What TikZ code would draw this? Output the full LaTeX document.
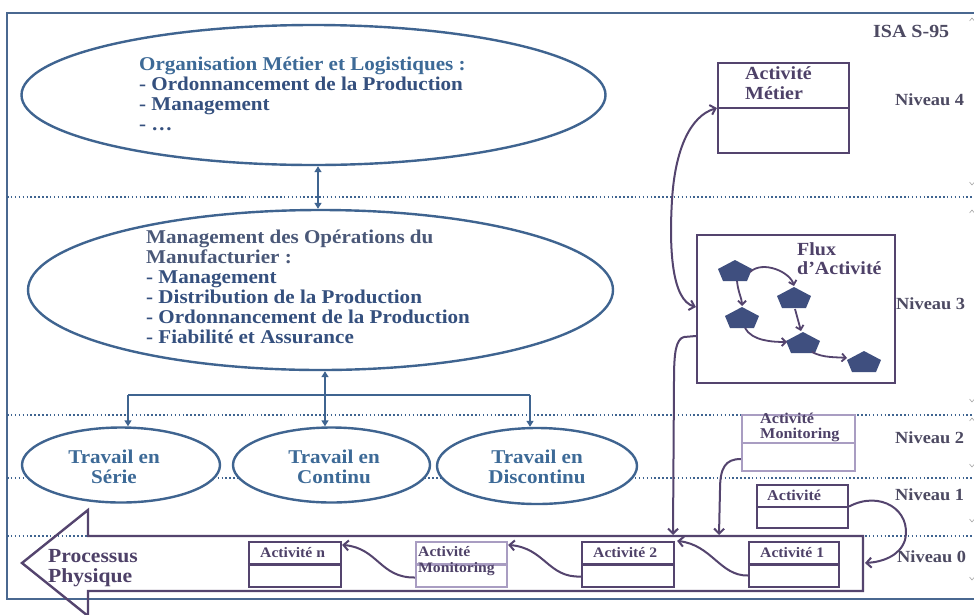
\documentclass[tikz,border=0pt]{standalone}
\usepackage{fontspec}
\setmainfont{Liberation Serif}[FakeStretch=1.08]
\usetikzlibrary{shapes.geometric,arrows.meta,calc}
\definecolor{blueline}{HTML}{3F6490}
\definecolor{frameblue}{HTML}{4A6890}
\definecolor{purp}{HTML}{54446E}
\definecolor{lpurp}{HTML}{A99DC2}
\definecolor{pentfill}{HTML}{3F4F7F}
\definecolor{tblue}{HTML}{3D6A97}
\definecolor{tnavy}{HTML}{35507E}
\definecolor{tslate}{HTML}{4A5878}
\definecolor{tpurp}{HTML}{4E4168}
\definecolor{tgrey}{HTML}{4D4A62}
\newcommand\myfs[2]{\fontsize{#1}{#2}\selectfont\bfseries}
\newcommand\mypent[1]{\fill[pentfill,shift={(#1)}] (0,-10) -- (17,-1) -- (12,11) -- (-12,11) -- (-17,-1) -- cycle;}
\begin{document}
\begin{tikzpicture}[x=1pt,y=-1pt,
  ell/.style={ellipse,draw=blueline,line width=2.4pt,fill=white,inner sep=0pt},
  bl/.style={draw=blueline,line width=2.4pt},
  btip/.style={bl,{Triangle[length=6pt,width=7pt]}-{Triangle[length=6pt,width=7pt]}},
  dtip/.style={bl,-{Triangle[length=6pt,width=7pt]}},
  dots/.style={draw=blueline,line width=1.5pt,dash pattern=on 1.5pt off 2.4pt},
  pbox/.style={draw=purp,line width=2.2pt,fill=white,inner sep=0pt},
  lbox/.style={draw=lpurp,line width=2.2pt,fill=white,inner sep=0pt},
  parr/.style={draw=purp,line width=2pt,-{Straight Barb[length=5pt,width=10pt]}},
  farr/.style={draw=purp,line width=1.8pt,-{Straight Barb[length=4pt,width=8pt]}},
  txt/.style={inner sep=0pt,align=left},
  edgemark/.style={draw=gray!70,line width=0.6pt}
]
\clip (0,0) rectangle (974,614);
\fill[white] (0,0) rectangle (974,614);
% frame
\draw[frameblue,line width=2.2pt] (980,13) -- (7,13) -- (7,599) -- (980,599);
% level separators
\draw[dots] (7,197) -- (974,197);
\draw[dots] (7,415) -- (974,415);
\draw[dots] (7,478) -- (974,478);
\draw[dots] (7,536) -- (974,536);
% right edge marks
\foreach \yy in {18,210,418} {\draw[edgemark] (969.5,\yy+3) -- (972,\yy) -- (974.5,\yy+3);}
\foreach \yy in {185,402,467,522,580} {\draw[edgemark] (969.5,\yy-3) -- (972,\yy) -- (974.5,\yy-3);}
% ellipses
\node[ell,minimum width=584pt,minimum height=140pt] (e1) at (313.5,95) {};
\node[ell,minimum width=585pt,minimum height=160pt] (e2) at (320.5,290) {};
\node[txt,anchor=north west,font=\myfs{19.5}{20}] (e1t) at (139,56.5)
 {\color{tblue}Organisation M\'etier et Logistiques :\\
  \color{tnavy}- Ordonnancement de la Production\\
  \color{tnavy}- Management\\
  \color{tnavy}- \ldots};
\node[txt,anchor=north west,font=\myfs{19.5}{20}] (e2t) at (146,229.5)
 {\color{tslate}Management des Op\'erations du\\
  \color{tslate}Manufacturier :\\
  \color{tnavy}- Management\\
  \color{tnavy}- Distribution de la Production\\
  \color{tnavy}- Ordonnancement de la Production\\
  \color{tnavy}- Fiabilit\'e et Assurance};
\node[ell,minimum width=198pt,minimum height=75pt] (ts) at (121,465) {};
\node[ell,minimum width=197pt,minimum height=75pt] (tc) at (331.5,465) {};
\node[ell,minimum width=200pt,minimum height=76pt] (td) at (537,466) {};
\node[txt,align=center,font=\myfs{19.5}{20},text=tblue] (tst) at (114,467) {Travail en\\S\'erie};
\node[txt,align=center,font=\myfs{19.5}{20},text=tblue] (tct) at (334,467) {Travail en\\Continu};
\node[txt,align=center,font=\myfs{19.5}{20},text=tblue] (tdt) at (537,467) {Travail en\\Discontinu};
% blue connectors
\coordinate (c12) at (318,0);
\coordinate (hL) at (128,395);
\coordinate (hC) at (325,395);
\coordinate (hR) at (530,395);
\draw[btip] (e1.south -| c12) -- (e2.north -| c12);
\draw[bl] (hL) -- (hR);
\draw[btip] (e2.south -| hC) -- (tc.north -| hC);
\draw[dtip] (hL) -- (ts.north -| hL);
\draw[dtip] (hR) -- (td.north -| hR);
% big arrow Processus Physique
\draw[purp,line width=2.4pt,line join=miter] (863,536) -- (88,536) -- (88,510) -- (22,563) -- (88,616) -- (88,591) -- (863,591) -- cycle;
\node[txt,anchor=north west,font=\myfs{20}{20},text=tpurp] (pp) at (48,549) {Processus\\Physique};
\coordinate (pA) at (673,535);
\coordinate (pB) at (719,535);
\coordinate (pC) at (865,563);
% right-side boxes
\node[pbox,minimum width=131pt,minimum height=90pt] (am) at (783.5,108) {};
\draw[purp,line width=2.2pt] (am.west) -- (am.east);
\node[txt,anchor=north west,font=\myfs{18.5}{20},text=tpurp] (amt) at (745,66) {Activit\'e\\M\'etier};
\node[pbox,minimum width=198pt,minimum height=148pt] (fl) at (796,309) {};
\node[txt,anchor=north west,font=\myfs{18.5}{19},text=tpurp] (flt) at (797,242) {Flux\\d'Activit\'e};
\node[lbox,minimum width=113pt,minimum height=56pt] (m2) at (798.5,443) {};
\draw[lpurp,line width=2.2pt] (m2.west) -- (m2.east);
\node[txt,anchor=north west,font=\myfs{15}{15},text=tpurp] (m2t) at (760,412.5) {Activit\'e\\Monitoring};
\node[pbox,minimum width=91pt,minimum height=43pt] (n1) at (802.5,506.5) {};
\draw[purp,line width=2.2pt] (757,507) -- (848,507);
\node[txt,anchor=base west,font=\myfs{15}{15},text=tpurp] (n1t) at (767,500) {Activit\'e};
% level 0 boxes
\node[pbox,minimum width=92pt,minimum height=45pt] (an) at (295,564.5) {};
\draw[purp,line width=2.2pt] (an.west) -- (an.east);
\node[txt,anchor=base west,font=\myfs{14.5}{15},text=tpurp] (ant) at (260,557) {Activit\'e n};
\node[lbox,minimum width=91pt,minimum height=45pt] (m0) at (461.5,564.5) {};
\draw[lpurp,line width=2.2pt] (m0.west) -- (m0.east);
\node[txt,anchor=north west,font=\myfs{14.5}{16},text=tpurp] (m0t) at (418,546) {Activit\'e\\Monitoring};
\node[pbox,minimum width=92pt,minimum height=45pt] (a2) at (628,564.5) {};
\draw[purp,line width=2.2pt] (a2.west) -- (a2.east);
\node[txt,anchor=base west,font=\myfs{14.5}{15},text=tpurp] (a2t) at (593,557) {Activit\'e 2};
\node[pbox,minimum width=90pt,minimum height=45pt] (a1) at (794,564.5) {};
\draw[purp,line width=2.2pt] (a1.west) -- (a1.east);
\node[txt,anchor=base west,font=\myfs{14.5}{15},text=tpurp] (a1t) at (760,557) {Activit\'e 1};
% pentagons
\coordinate (p1) at (735,270);
\coordinate (p2) at (794,297);
\coordinate (p3) at (742,317);
\coordinate (p4) at (803,342);
\coordinate (p5) at (864,361);
\mypent{p1}\mypent{p2}\mypent{p3}\mypent{p4}\mypent{p5}
\draw[farr] ($(p1)+(2,11)$) .. controls ($(p1)+(3,22)$) and ($(p3)+(0,-18)$) .. ($(p3)+(0,-11)$);
\draw[farr] ($(p1)+(15,2)$) .. controls ($(p1)+(28,-10)$) and ($(p2)+(-4,-25)$) .. ($(p2)+(0,-11)$);
\draw[farr] ($(p2)+(1,12)$) -- ($(p4)+(-2,-11)$);
\draw[farr] ($(p3)+(3,11)$) .. controls ($(p3)+(10,24)$) and ($(p4)+(-30,0)$) .. ($(p4)+(-16,0)$);
\draw[farr] ($(p4)+(9,10)$) .. controls ($(p4)+(20,16)$) and ($(p5)+(-28,-4)$) .. ($(p5)+(-17,-3)$);
% purple connectors
\draw[draw=purp,line width=2pt,{Straight Barb[length=5pt,width=10pt]}-{Straight Barb[length=5pt,width=10pt]}]
  (am.west) .. controls (690,116) and (675,150) .. (672,200) .. controls (669,250) and (672,300) .. ([yshift=2pt]fl.west);
\draw[parr] ([yshift=-27pt]fl.west) -- (684,337) .. controls (676,339) and (674,352) .. (674,380) -- (pA);
\draw[parr] ([yshift=-16pt]m2.west) .. controls (725,459) and (720,468) .. (720,490) -- (pB);
\draw[parr] (n1.east) .. controls (880,490) and (912,510) .. (905,540) .. controls (900,556) and (882,562) .. (pC);
\draw[parr] ([yshift=-11pt]a1.west) .. controls (720,576) and (712,545) .. ([xshift=2pt]a2.north east);
\draw[parr] ([yshift=-12pt]a2.west) .. controls (548,578) and (545,548) .. ([yshift=-4pt]m0.north east);
\draw[parr] ([yshift=-13pt]m0.west) .. controls (380,578) and (378,548) .. ([yshift=-4pt]an.north east);
% labels
\node[txt,anchor=base west,font=\myfs{18.5}{20},text=tgrey] (isa) at (873,37) {ISA S-95};
\node[txt,anchor=base west,font=\myfs{17}{17},text=tgrey] (nv4) at (895,105) {Niveau 4};
\node[txt,anchor=base west,font=\myfs{17}{17},text=tgrey] (nv3) at (896,309) {Niveau 3};
\node[txt,anchor=base west,font=\myfs{17}{17},text=tgrey] (nv2) at (895,443) {Niveau 2};
\node[txt,anchor=base west,font=\myfs{17}{17},text=tgrey] (nv1) at (895,500) {Niveau 1};
\node[txt,anchor=base west,font=\myfs{17}{17},text=tgrey] (nv0) at (897,562) {Niveau 0};
\end{tikzpicture}
\end{document}
